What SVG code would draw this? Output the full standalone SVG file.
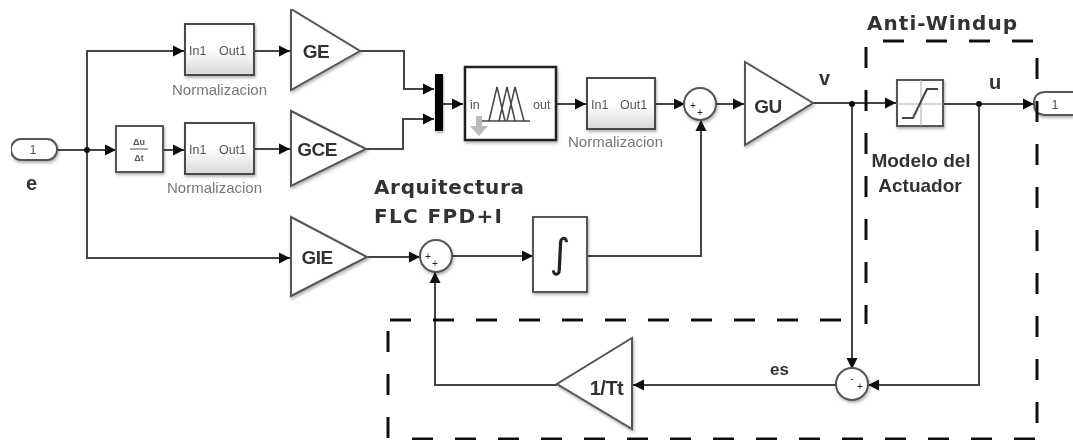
<svg xmlns="http://www.w3.org/2000/svg" width="1073" height="443" viewBox="0 0 1073 443">
<style>
.b{fill:#fff;stroke:#555;stroke-width:2}
.n{fill:url(#g);stroke:#4a4a4a;stroke-width:2}
.c{fill:none;stroke:#444;stroke-width:2;marker-end:url(#a)}
.d{fill:#111}
.t{font-family:"Liberation Sans",Arial,sans-serif;fill:#555}
.s{font-size:15px;fill:#777}
.p{font-size:12.500px;fill:#555}
.g{font-size:19px;font-weight:bold;fill:#333;text-anchor:middle;letter-spacing:-0.5px}
.h{font-family:"DejaVu Sans",sans-serif;font-size:20px;font-weight:bold;fill:#333}
.k{font-family:"Liberation Sans",Arial,sans-serif;font-weight:bold;fill:#333}
.m{font-family:"Liberation Sans",sans-serif;font-size:10px;text-anchor:middle;fill:#222}
.dash{fill:none;stroke:#111;stroke-width:3;stroke-dasharray:21 22}
</style>
<defs>
<marker id="a" markerUnits="userSpaceOnUse" markerWidth="12" markerHeight="12" refX="11" refY="6" orient="auto"><path d="M0 0.5L11 6L0 11.5Z" fill="#111"/></marker>
<linearGradient id="g" x1="0" y1="0" x2="0" y2="1"><stop offset="0.5" stop-color="#fff"/><stop offset="1" stop-color="#d8d8d8"/></linearGradient>
<filter id="sh" x="-20%" y="-20%" width="140%" height="140%"><feDropShadow dx="1" dy="2" stdDeviation="1.500" flood-color="#000" flood-opacity="0.3"/></filter>
<filter id="soft" x="0" y="0" width="100%" height="100%"><feGaussianBlur stdDeviation="0.500"/></filter>
</defs>
<rect width="1073" height="443" fill="#fff"/>
<g filter="url(#soft)">
<g id="connectors">
<path class="c" d="M57 150H116"/>
<path class="c" d="M87 150V51H184"/>
<path class="c" d="M87 150V258H290"/>
<path class="c" d="M163 150H184"/>
<path class="c" d="M254 51H290"/>
<path class="c" d="M254 149H290"/>
<path class="c" d="M360 51H404V89H434"/>
<path class="c" d="M366 149H403V119H434"/>
<path class="c" d="M443 104H463"/>
<path class="c" d="M556 104H586"/>
<path class="c" d="M655 104H685"/>
<path class="c" d="M715 104H744"/>
<path class="c" d="M813 103H896"/>
<path class="c" d="M943 104H1034"/>
<path class="c" d="M852 104V369"/>
<path class="c" d="M979 104V385H868"/>
<path class="c" d="M836 385H633"/>
<path class="c" d="M557 385H435V272"/>
<path class="c" d="M367 257H420"/>
<path class="c" d="M452 256H533"/>
<path class="c" d="M587 256H701V120"/>
<circle class="d" cx="87" cy="150" r="3"/>
<circle class="d" cx="852" cy="104" r="3"/>
<circle class="d" cx="979" cy="104" r="3"/>
</g>
<g id="inport"><rect class="b" x="11" y="139" width="46" height="21" rx="10" filter="url(#sh)"/><text class="t p" x="33" y="154" text-anchor="middle">1</text></g>
<g id="label-e"><text class="k" x="26" y="190" font-size="20">e</text></g>
<g id="norm1"><rect class="n" x="185" y="24" width="69" height="51" filter="url(#sh)"/><text class="t p" x="189" y="55">In1</text><text class="t p" x="219" y="55">Out1</text><text class="t s" x="172" y="95">Normalizacion</text></g>
<g id="deriv"><rect class="b" x="116" y="126" width="47" height="46" filter="url(#sh)"/><text class="t" x="139" y="145" font-size="9" text-anchor="middle" font-weight="bold">Δu</text><path d="M130 149H148" stroke="#555" stroke-width="1"/><text class="t" x="139" y="161" font-size="9" text-anchor="middle" font-weight="bold">Δt</text></g>
<g id="norm2"><rect class="n" x="185" y="123" width="69" height="51" filter="url(#sh)"/><text class="t p" x="189" y="154">In1</text><text class="t p" x="219" y="154">Out1</text><text class="t s" x="167" y="193">Normalizacion</text></g>
<g id="ge"><path class="b" d="M291 9V90L360 51Z" filter="url(#sh)"/><text class="t g" x="316" y="58">GE</text></g>
<g id="gce"><path class="b" d="M291 111V186L366 149Z" filter="url(#sh)"/><text class="t g" x="317" y="156">GCE</text></g>
<g id="gie"><path class="b" d="M291 217V296L367 257Z" filter="url(#sh)"/><text class="t g" x="317" y="264">GIE</text></g>
<g id="mux"><rect x="435" y="74" width="8" height="57" fill="#000" filter="url(#sh)"/></g>
<g id="flc"><rect x="465" y="67" width="91" height="73" fill="#fff" stroke="#222" stroke-width="2.500" filter="url(#sh)"/>
<text class="t p" x="470" y="109">in</text><text class="t p" x="533" y="109">out</text>
<path d="M482 121H530M489 121L497 87L505 121M499 121L507 87L515 121M507 121L515 87L524 121" fill="none" stroke="#444" stroke-width="1.500"/>
<path d="M476 116H482V126H488L479 136L470 126H476Z" fill="#bbb"/></g>
<g id="norm3"><rect class="n" x="587" y="78" width="68" height="51" filter="url(#sh)"/><text class="t p" x="591" y="109">In1</text><text class="t p" x="620" y="109">Out1</text><text class="t s" x="568" y="147">Normalizacion</text></g>
<g id="sum1"><circle class="b" cx="700" cy="104" r="16" filter="url(#sh)"/><text class="m" x="693" y="109">+</text><text class="m" x="700" y="116">+</text></g>
<g id="gu"><path class="b" d="M745 62V145L813 103Z" filter="url(#sh)"/><text class="t g" x="768" y="113">GU</text></g>
<g id="label-v"><text class="k" x="819" y="85" font-size="20">v</text></g>
<g id="sat"><rect class="b" x="897" y="80" width="46" height="46" filter="url(#sh)"/><path d="M897 104H943M921 80V126" stroke="#aaa" stroke-width="1"/><path d="M902 118H913L927 89H938" fill="none" stroke="#444" stroke-width="2"/></g>
<g id="label-u"><text class="k" x="989" y="89" font-size="20">u</text></g>
<g id="outport"><path class="b" d="M1073 92H1046Q1034 92 1034 103.500Q1034 115 1046 115H1073" filter="url(#sh)"/><text class="t p" x="1055" y="109" text-anchor="middle">1</text></g>
<g id="sum2"><circle class="b" cx="436" cy="256" r="16" filter="url(#sh)"/><text class="m" x="428" y="260">+</text><text class="m" x="435" y="267">+</text></g>
<g id="integ"><rect class="b" x="533" y="217" width="54" height="75" filter="url(#sh)"/><text x="560" y="267" font-family="DejaVu Sans,sans-serif" font-size="40" text-anchor="middle" fill="#222">∫</text></g>
<g id="gain"><path class="b" d="M632 338V429L557 384Z" filter="url(#sh)"/><text class="t g" x="606.500" y="395" style="font-size:20px">1/Tt</text></g>
<g id="sum3"><circle class="b" cx="852" cy="384" r="16" filter="url(#sh)"/><text class="m" x="852" y="382">-</text><text class="m" x="860" y="390">+</text></g>
<g id="label-es"><text class="k" x="770" y="375" font-size="17">es</text></g>
<g id="labels">
<text class="h" x="867" y="30" textLength="150">Anti-Windup</text>
<text class="h" x="374" y="194" textLength="150">Arquitectura</text>
<text class="h" x="374" y="223" textLength="128">FLC FPD+I</text>
<text class="k" x="921" y="167" font-size="19" text-anchor="middle">Modelo del</text>
<text class="k" x="920" y="192" font-size="19" text-anchor="middle">Actuador</text>
</g>
<g id="dashes">
<path class="dash" d="M883 41H1040"/>
<path class="dash" d="M866 47V324"/>
<path class="dash" d="M1037 58V430"/>
<path class="dash" d="M390 320H850"/>
<path class="dash" d="M388 331V440"/>
<path class="dash" d="M412 439H1036"/>
</g>
</g>
</svg>
